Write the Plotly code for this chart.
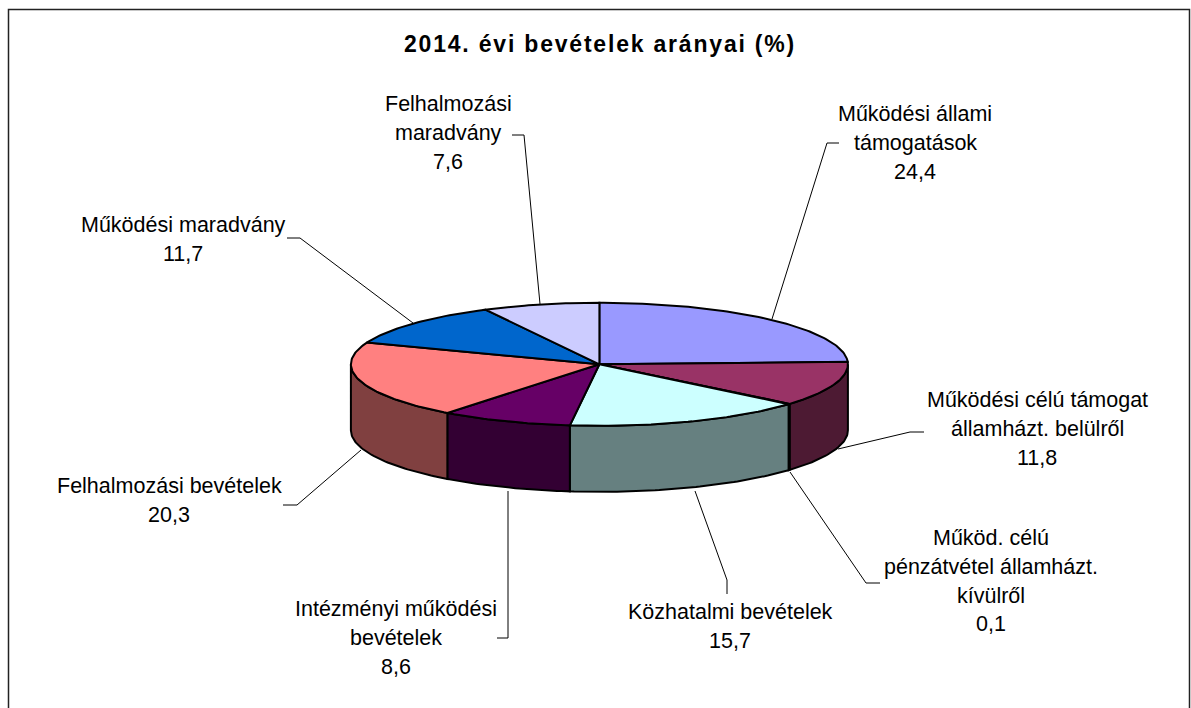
import math
import plotly.graph_objects as go

TITLE = "2014. évi bevételek arányai (%)"
label_lines = [
    ["Működési állami", "támogatások"],
    ["Működési célú támogat", "államházt. belülről"],
    ["Működ. célú", "pénzátvétel államházt.", "kívülről"],
    ["Közhatalmi bevételek"],
    ["Intézményi működési", "bevételek"],
    ["Felhalmozási bevételek"],
    ["Működési maradvány"],
    ["Felhalmozási", "maradvány"],
]
values = [24.4, 11.8, 0.1, 15.7, 8.6, 20.3, 11.7, 7.6]
top_colors = ["#9999FF", "#993366", "#FFFFCC", "#CCFFFF", "#660066", "#FF8080", "#0066CC", "#CCCCFF"]
side_colors = ["#4D4D80", "#4D1A33", "#808066", "#668080", "#330033", "#804040", "#003366", "#666680"]

# layout (pixel-like axis units)
W, H = 1191, 708
CX, CY, RX, RY, DEPTH = 599.4, 364.3, 248.5, 61.5, 66
LINE_H = 28.8
FONT = "Liberation Sans, Arial, sans-serif"
label_anchor = [
    (915, 114), (1037, 400), (991, 538), (730, 612),
    (396, 609), (169, 486), (183, 225), (448, 104),
]
leaders = [
    [(772, 319), (827, 143), (839, 143)],
    [(838, 449), (910, 432), (924, 432)],
    [(790, 472), (866, 583), (880, 583)],
    [(695, 491), (727, 580), (727, 594)],
    [(508, 491), (508, 638), (497, 638)],
    [(361, 450), (297, 505), (283, 505)],
    [(413, 323), (300, 238), (287, 238)],
    [(540, 304), (524, 135), (512, 135)],
]


def pt(deg, dy=0.0):
    a = math.radians(deg)
    return CX + RX * math.sin(a), CY - RY * math.cos(a) + dy


def arc(a0, a1, dy=0.0):
    n = max(2, int(abs(a1 - a0) / 1.0) + 2)
    return [pt(a0 + (a1 - a0) * i / (n - 1), dy) for i in range(n)]


total = sum(values)
edges = [0.0]
for v in values:
    edges.append(edges[-1] + v / total * 360)

fig = go.Figure()

# leader lines (behind the pie)
for seg in leaders:
    fig.add_trace(go.Scatter(
        x=[p[0] for p in seg], y=[p[1] for p in seg], mode="lines",
        line=dict(color="#000000", width=1), hoverinfo="skip", showlegend=False))

# rim: only the front half of the disc shows its side wall
for i in range(len(values)):
    a0, a1 = max(edges[i], 90.0), min(edges[i + 1], 270.0)
    if a1 <= a0:
        continue
    pts = arc(a0, a1) + arc(a1, a0, DEPTH)
    pts.append(pts[0])
    fig.add_trace(go.Scatter(
        x=[p[0] for p in pts], y=[p[1] for p in pts], mode="lines", fill="toself",
        fillcolor=side_colors[i], line=dict(color="#000000", width=2),
        hoverinfo="skip", showlegend=False))

# top faces
for i, v in enumerate(values):
    pts = [(CX, CY)] + arc(edges[i], edges[i + 1]) + [(CX, CY)]
    fig.add_trace(go.Scatter(
        x=[p[0] for p in pts], y=[p[1] for p in pts], mode="lines", fill="toself",
        fillcolor=top_colors[i], line=dict(color="#000000", width=2),
        name=" ".join(label_lines[i]), text=f"{v:.1f}".replace(".", ","), hoverinfo="name+text",
        showlegend=False))

# labels, one annotation per line to hold the original line spacing
annotations = []
for lines, v, (ax, ay) in zip(label_lines, values, label_anchor):
    for k, line in enumerate(lines + [f"{v:.1f}".replace(".", ",")]):
        annotations.append(dict(
            x=ax, y=ay + k * LINE_H, xref="x", yref="y", text=line, showarrow=False,
            xanchor="center", yanchor="middle", font=dict(family=FONT, size=21.5, color="#000000")))

fig.update_layout(
    width=W, height=H, autosize=False, margin=dict(l=0, r=0, t=0, b=0),
    paper_bgcolor="#FFFFFF", plot_bgcolor="#FFFFFF", showlegend=False,
    title=dict(text=f"<b>{TITLE}</b>", x=600 / W, y=1 - 44 / H, xanchor="center", yanchor="middle",
               font=dict(family=FONT, size=23, color="#000000")),
    xaxis=dict(range=[0, W], visible=False, fixedrange=True),
    yaxis=dict(range=[H, 0], visible=False, fixedrange=True),
    annotations=annotations,
    shapes=[dict(type="rect", xref="x", yref="y", x0=8.5, y0=9.5, x1=1189.5, y1=H + 20,
                 line=dict(color="#222222", width=1.5), layer="below")],
)

fig.write_html("out.html", config={"displayModeBar": False},
               post_script="document.body.style.margin='0';document.body.style.overflow='hidden';"
                           "var t=document.querySelector('.gtitle');if(t){t.style.letterSpacing='1.8px';}")
